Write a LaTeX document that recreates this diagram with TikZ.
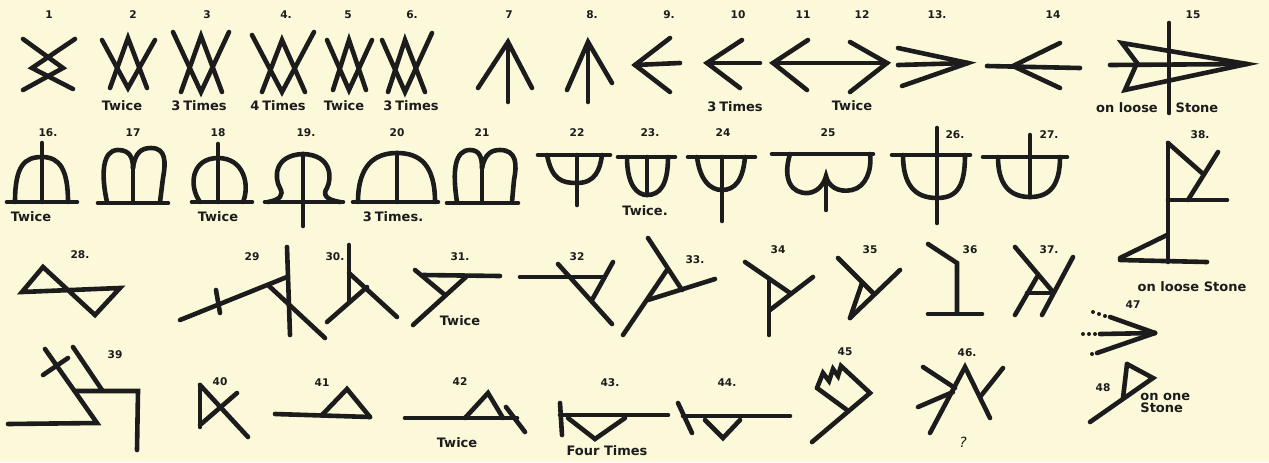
\documentclass[tikz,border=0pt]{standalone}
\usepackage{fontspec}
\setmainfont{DejaVu Sans}
\definecolor{bg}{HTML}{FBF9DA}
\definecolor{inkc}{HTML}{1C1C1C}
\tikzset{
  ink/.style={line width=2.3pt, draw=inkc, line cap=round},
  num/.style={font=\bfseries\fontsize{5.3}{6}\selectfont, text=inkc, inner sep=0pt},
  lbl/.style={font=\bfseries\fontsize{6.5}{7.5}\selectfont, text=inkc, inner sep=0pt},
  dot/.style={fill=inkc, draw=none}
}
\begin{document}
\begin{tikzpicture}[x=0.5pt,y=-0.5pt]
\fill[bg] (0,0) rectangle (1269,462);
\useasboundingbox (0,0) rectangle (1269,462);

% ---------- Row 1 ----------
% 1
\draw[ink] (23,39)--(63,68)--(23,90);
\draw[ink] (75,39)--(32,68)--(73,89);
% 2
\draw[ink] (102,40)--(128,88)--(155,40);
\draw[ink] (110,88)--(128,38)--(147,88);
% 3
\draw[ink] (173,32)--(201,92)--(229,32);
\draw[ink] (181,92)--(201,36)--(222,92);
% 4
\draw[ink] (252,35)--(282,92)--(314,32);
\draw[ink] (262,92)--(282,40)--(305,92);
% 5
\draw[ink] (327,40)--(349,90)--(372,40);
\draw[ink] (333,90)--(349,40)--(366,90);
% 6
\draw[ink] (382,40)--(405,92)--(432,33);
\draw[ink] (388,92)--(405,40)--(425,92);
% 7
\draw[ink] (508,42)--(508,102);
\draw[ink] (478,88)--(508,42)--(532,88);
% 8
\draw[ink] (588,42)--(588,102);
\draw[ink] (567,90)--(588,42)--(612,83);
% 9
\draw[ink] (670,38)--(635,65)--(670,92);
\draw[ink] (635,65)--(680,63);
% 10
\draw[ink] (742,40)--(707,63)--(740,88);
\draw[ink] (707,63)--(760,63);
% 11 & 12
\draw[ink] (808,40)--(773,63)--(807,90);
\draw[ink] (773,63)--(887,63);
\draw[ink] (850,42)--(887,63)--(850,92);
% 13
\draw[ink] (898,48)--(968,63)--(902,86);
\draw[ink] (898,65)--(968,63);
% 14
\draw[ink] (987,66)--(1080,68);
\draw[ink] (1060,43)--(1013,66)--(1060,88);
% 15
\draw[ink] (1110,65)--(1247,64);
\draw[ink] (1122,43)--(1137,63)--(1125,90)--(1247,64)--cycle;
\draw[ink] (1169,23)--(1169,113);

% ---------- Row 2 ----------
% 16
\draw[ink] (7,202)--(77,202);
\draw[ink] (15,202) .. controls (15,165) and (25,157) .. (42,157) .. controls (60,157) and (68,170) .. (68,202);
\draw[ink] (42,143)--(42,202);
% 17
\draw[ink] (98,203)--(168,203);
\draw[ink] (107,202) .. controls (101,175) and (102,150) .. (118,150) .. controls (130,150) and (133,158) .. (133,168);
\draw[ink] (133,166)--(133,202);
\draw[ink] (133,168) .. controls (135,152) and (142,148) .. (151,148) .. controls (166,148) and (166,162) .. (163,178) -- (160,202);
% 18
\draw[ink] (192,202)--(252,202);
\draw[ink] (218,144)--(218,202);
\draw[ink] (200,202) .. controls (188,185) and (192,158) .. (218,158) .. controls (244,158) and (250,185) .. (243,202);
% 19
\draw[ink] (265,202)--(343,202);
\draw[ink] (303,154)--(303,226);
\draw[ink] (268,202) .. controls (280,200) and (284,195) .. (280,188) .. controls (274,178) and (274,155) .. (303,154) .. controls (332,155) and (332,178) .. (327,188) .. controls (322,195) and (327,200) .. (340,202);
% 20
\draw[ink] (353,202)--(438,202);
\draw[ink] (358,202) .. controls (358,165) and (375,153) .. (397,153) .. controls (420,153) and (435,165) .. (435,202);
\draw[ink] (397,153)--(397,202);
% 21
\draw[ink] (447,203)--(518,203);
\draw[ink] (457,202) .. controls (452,170) and (455,150) .. (470,150) .. controls (480,150) and (482,158) .. (482,168);
\draw[ink] (482,166)--(482,202);
\draw[ink] (482,168) .. controls (485,153) and (492,150) .. (500,150) .. controls (517,150) and (517,165) .. (514,180) -- (512,202);
% 22
\draw[ink] (538,155)--(610,155);
\draw[ink] (547,155) .. controls (552,180) and (562,183) .. (577,183) .. controls (595,183) and (600,170) .. (602,155);
\draw[ink] (577,155)--(577,205);
% 23
\draw[ink] (618,157)--(675,157);
\draw[ink] (627,157) .. controls (627,185) and (637,195) .. (647,195) .. controls (660,195) and (668,185) .. (668,157);
\draw[ink] (647,157)--(647,195);
% 24
\draw[ink] (688,157)--(755,157);
\draw[ink] (697,157) .. controls (700,180) and (710,190) .. (722,190) .. controls (735,190) and (743,180) .. (745,157);
\draw[ink] (722,157)--(722,221);
% 25
\draw[ink] (772,154)--(873,154);
\draw[ink] (790,154) .. controls (782,180) and (792,194) .. (808,193) .. controls (818,192) and (824,184) .. (826,176) .. controls (828,186) and (838,193) .. (852,190) .. controls (866,187) and (872,170) .. (870,154);
\draw[ink] (826,184)--(826,210);
% 26
\draw[ink] (937,128)--(937,223);
\draw[ink] (892,155)--(970,155);
\draw[ink] (903,155) .. controls (903,185) and (915,198) .. (937,198) .. controls (958,198) and (965,185) .. (965,155);
% 27
\draw[ink] (1030,135)--(1030,197);
\draw[ink] (983,157)--(1067,157);
\draw[ink] (998,157) .. controls (998,185) and (1010,197) .. (1030,197) .. controls (1050,197) and (1060,185) .. (1060,157);
% 38
\draw[ink] (1168,143)--(1168,262);
\draw[ink] (1168,143)--(1202,173);
\draw[ink] (1218,152)--(1188,200);
\draw[ink] (1168,200)--(1227,200);
\draw[ink] (1167,235)--(1120,258);
\draw[ink] (1120,260)--(1207,262);

% ---------- Row 3 ----------
% 28
\draw[ink] (22,292)--(43,267)--(95,315)--(120,288)--cycle;
% 29
\draw[ink] (180,320)--(287,277);
\draw[ink] (216,290)--(220,313);
\draw[ink] (287,247)--(290,335);
\draw[ink] (268,285)--(325,338);
% 30
\draw[ink] (349,245)--(349,302);
\draw[ink] (349,273)--(397,317);
\draw[ink] (367,287)--(327,322);
% 31
\draw[ink] (423,275)--(500,276);
\draw[ink] (415,270)--(445,295);
\draw[ink] (467,276)--(413,325);
% 32
\draw[ink] (520,277)--(603,277);
\draw[ink] (558,264)--(612,324);
\draw[ink] (613,262)--(592,300);
% 33
\draw[ink] (648,238)--(682,290);
\draw[ink] (623,335)--(667,270);
\draw[ink] (648,300)--(715,279);
% 34
\draw[ink] (745,262)--(790,293);
\draw[ink] (813,277)--(770,310);
\draw[ink] (769,280)--(769,335);
% 35
\draw[ink] (838,258)--(873,293);
\draw[ink] (900,270)--(850,318);
\draw[ink] (862,283)--(850,318);
% 36
\draw[ink] (928,244)--(957,263)--(957,313);
\draw[ink] (928,314)--(982,314);
% 37
\draw[ink] (1015,247)--(1053,292);
\draw[ink] (1073,257)--(1042,315);
\draw[ink] (1037,277)--(1015,315);
\draw[ink] (1027,293)--(1053,293);
% 47
\draw[ink] (1110,317)--(1155,333);
\draw[ink] (1100,334)--(1155,333);
\draw[ink] (1097,353)--(1155,333);
\foreach \px/\py in {1093/312,1099/314,1105/316,1083/334,1089/334,1095/334,1092/354}
  \fill[dot] (\px,\py) circle[radius=1pt];

% ---------- Row 4 ----------
% 39
\draw[ink] (45,349)--(97,423)--(8,424);
\draw[ink] (73,347)--(102,390);
\draw[ink] (75,391)--(138,391)--(137,450);
\draw[ink] (43,375)--(68,358);
% 40
\draw[ink] (200,385)--(200,427);
\draw[ink] (200,385)--(248,437);
\draw[ink] (237,393)--(200,425);
% 41
\draw[ink] (275,414)--(370,417);
\draw[ink] (322,415)--(347,389)--(370,417);
% 42
\draw[ink] (405,418)--(517,418);
\draw[ink] (465,418)--(488,393)--(503,418);
\draw[ink] (506,407)--(525,432);
% 43
\draw[ink] (560,403)--(562,435);
\draw[ink] (560,415)--(668,415);
\draw[ink] (568,418)--(595,439)--(625,418);
% 44
\draw[ink] (678,403)--(692,433);
\draw[ink] (683,416)--(790,416);
\draw[ink] (705,420)--(723,438)--(740,420);
% 45
\draw[ink] (817,388)--(823,373)--(829,381)--(833,369)--(838,376)--(841,366)--(870,393)--(812,442);
\draw[ink] (817,388)--(847,410);
% 46
\draw[ink] (930,433)--(965,367)--(990,418);
\draw[ink] (923,367)--(955,388);
\draw[ink] (918,407)--(953,392);
\draw[ink] (1003,368)--(980,397);
% 48
\draw[ink] (1127,364)--(1153,378)--(1090,422);
\draw[ink] (1127,364)--(1123,398);

% ---------- numbers ----------
\node[num] (n1) at (49,15) {1};
\node[num] (n2) at (133,15) {2};
\node[num] (n3) at (207,15) {3};
\node[num] (n4) at (286,15) {4.};
\node[num] (n5) at (348,15) {5};
\node[num] (n6) at (412,15) {6.};
\node[num] (n7) at (509,15) {7};
\node[num] (n8) at (592,15) {8.};
\node[num] (n9) at (669,15) {9.};
\node[num] (n10) at (738,15) {10};
\node[num] (n11) at (803,15) {11};
\node[num] (n12) at (862,15) {12};
\node[num] (n13) at (937,15) {13.};
\node[num] (n14) at (1053,15) {14};
\node[num] (n15) at (1193,15) {15};
\node[num] (n16) at (48,133) {16.};
\node[num] (n17) at (133,133) {17};
\node[num] (n18) at (218,133) {18};
\node[num] (n19) at (306,133) {19.};
\node[num] (n20) at (397,133) {20};
\node[num] (n21) at (482,133) {21};
\node[num] (n22) at (577,133) {22};
\node[num] (n23) at (650,133) {23.};
\node[num] (n24) at (723,133) {24};
\node[num] (n25) at (828,133) {25};
\node[num] (n26) at (955,135) {26.};
\node[num] (n27) at (1049,135) {27.};
\node[num] (n38) at (1200,135) {38.};
\node[num] (n28) at (80,255) {28.};
\node[num] (n29) at (252,257) {29};
\node[num] (n30) at (335,257) {30.};
\node[num] (n31) at (460,257) {31.};
\node[num] (n32) at (577,257) {32};
\node[num] (n33) at (695,260) {33.};
\node[num] (n34) at (778,250) {34};
\node[num] (n35) at (870,250) {35};
\node[num] (n36) at (970,250) {36};
\node[num] (n37) at (1049,250) {37.};
\node[num] (n47) at (1133,305) {47};
\node[num] (n39) at (115,355) {39};
\node[num] (n40) at (220,382) {40};
\node[num] (n41) at (322,383) {41};
\node[num] (n42) at (460,382) {42};
\node[num] (n43) at (610,383) {43.};
\node[num] (n44) at (727,383) {44.};
\node[num] (n45) at (845,352) {45};
\node[num] (n46) at (967,353) {46.};
\node[num] (n48) at (1103,388) {48};

% ---------- labels ----------
\node[lbl] (t2) at (122,106) {Twice};
\node[lbl] (t3) at (199,106) {3\kern1.5pt Times};
\node[lbl] (t4) at (278,106) {4\kern1.5pt Times};
\node[lbl] (t5) at (344,106) {Twice};
\node[lbl] (t6) at (411,106) {3\kern1.5pt Times};
\node[lbl] (t10) at (735,107) {3\kern1.5pt Times};
\node[lbl] (t12) at (852,106) {Twice};
\node[lbl] (t15a) at (1127,108) {on loose};
\node[lbl] (t15b) at (1197,108) {Stone};
\node[lbl] (t16) at (31,217) {Twice};
\node[lbl] (t18) at (218,217) {Twice};
\node[lbl] (t20) at (393,217) {3\kern1.5pt Times.};
\node[lbl] (t23) at (645,211) {Twice.};
\node[lbl] (t38) at (1192,287) {on loose Stone};
\node[lbl] (t31) at (460,321) {Twice};
\node[lbl] (t42) at (457,443) {Twice};
\node[lbl] (t43) at (607,451) {Four Times};
\node[lbl, font=\fontsize{7}{8}\selectfont\itshape] (t46) at (963,442) {?};
\node[lbl, anchor=west, align=left, font=\bfseries\fontsize{6.5}{6.3}\selectfont] (t48) at (1140,403) {on one\\Stone};
\end{tikzpicture}
\end{document}
